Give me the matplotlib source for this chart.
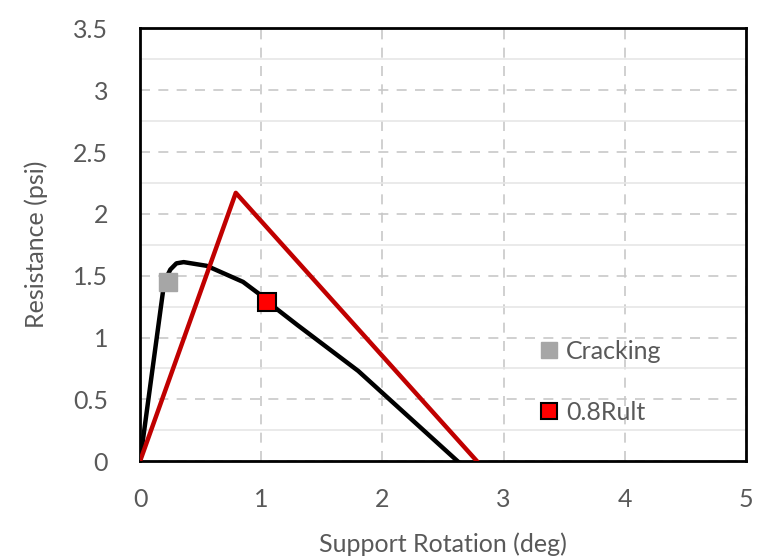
import numpy as np
import matplotlib.pyplot as plt
from matplotlib.ticker import MultipleLocator

# curve
rot_black = [0, 0.2, 0.25, 0.3, 0.36, 0.55, 0.85, 1.0, 1.05, 1.3, 1.8, 2.62]
res_black = [0, 1.45, 1.55, 1.6, 1.61, 1.58, 1.45, 1.34, 1.29, 1.1, 0.73, 0]

rot_red = [0, 0.79, 2.78]
res_red = [0, 2.17, 0]

crack_x, crack_y = [0.23], [1.45]
ult_x, ult_y = [1.05], [1.29]

ytick_vals = [0, 0.5, 1, 1.5, 2, 2.5, 3, 3.5]
ytick_text = ['0', '0.5', '1', '1.5', '2', '2.5', '3', '3.5']

txt = '#595959'
plt.rcParams['font.family'] = ['Lato', 'DejaVu Sans']

fig = plt.figure(figsize=(7.57, 5.57), dpi=100)
ax = fig.add_axes([0.185, 0.172, 0.8005, 0.777])

ax.plot(rot_black, res_black, color='black', lw=3.2, zorder=3)
ax.plot(rot_red, res_red, color='#c00000', lw=3.2, zorder=3)
ax.plot(crack_x, crack_y, 's', ms=13, color='#a6a6a6', mec='#a6a6a6', ls='none',
        label='Cracking', zorder=4)
ax.plot(ult_x, ult_y, 's', ms=13, color='#ff0000', mec='black', mew=1.5, ls='none',
        label='0.8Rult', zorder=4)

ax.set_xlim(0, 5)
ax.set_ylim(0, 3.5)
ax.xaxis.set_major_locator(MultipleLocator(1))
ax.set_yticks(ytick_vals)
ax.set_yticklabels(ytick_text)
ax.yaxis.set_minor_locator(MultipleLocator(0.25))

ax.grid(True, which='major', axis='both', color='#c8c8c8', ls=(0, (6, 5)), lw=1.2)
ax.grid(True, which='minor', axis='y', color='#e6e6e6', ls='-', lw=1.2)
ax.set_axisbelow(True)

ax.tick_params(which='both', length=0, labelsize=18, colors=txt)
ax.tick_params(axis='x', pad=19)
ax.tick_params(axis='y', pad=23)
for s in ax.spines.values():
    s.set_linewidth(2)
    s.set_color('black')

ax.set_xlabel('Support Rotation (deg)', fontsize=18, color=txt, labelpad=16)
ax.set_ylabel('Resistance (psi)', fontsize=18, color=txt, labelpad=18)

leg = ax.legend(loc='center left', bbox_to_anchor=(0.625, 0.183), frameon=False,
                fontsize=18, handlelength=0.6, handletextpad=0.4, labelspacing=1.5,
                markerscale=0.85)
for t in leg.get_texts():
    t.set_color(txt)

fig.savefig('out.png', dpi=100)
